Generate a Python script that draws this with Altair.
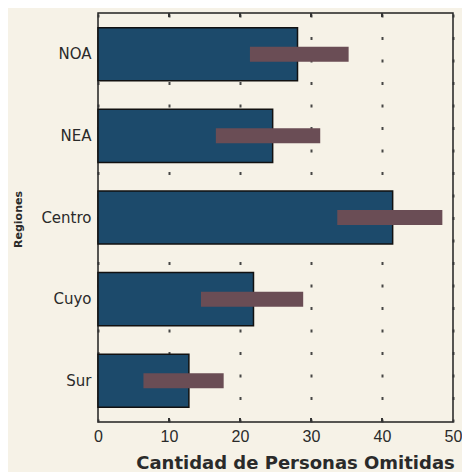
import altair as alt
import pandas as pd

regions = ["NOA", "NEA", "Centro", "Cuyo", "Sur"]
values = [28.1, 24.6, 41.5, 21.9, 12.8]
err_low = [21.4, 16.6, 33.7, 14.5, 6.4]
err_high = [35.3, 31.3, 48.5, 28.9, 17.7]
x_ticks = [0, 10, 20, 30, 40, 50]
inner_ticks = [10, 20, 30, 40]

df = pd.DataFrame({"region": regions, "value": values, "lo": err_low, "hi": err_high})
ticks_df = pd.DataFrame({"t": inner_ticks})

x_scale = alt.Scale(domain=[0, 50], nice=False, zero=True)
y_scale = alt.Scale(domain=regions, paddingInner=0.35, paddingOuter=0.18)

x_axis = alt.Axis(
    values=x_ticks, title="Cantidad de Personas Omitidas", format="d",
    domain=False, ticks=False, labelFlush=False,
    labelFont="Liberation Sans", labelFontSize=16, labelColor="#2a2a2a", labelPadding=6,
    titleFont="DejaVu Sans", titleFontSize=18, titleFontWeight="bold", titleColor="#2a2a2a",
    titleX=197, titleY=46, titleBaseline="alphabetic", titleAlign="center",
    grid=True, gridColor="#333333", gridWidth=2, gridDash=[3, 19.5], gridOpacity=0.9,
)
y_axis = alt.Axis(
    title="Regiones", domain=False, ticks=False, grid=False,
    labelFont="DejaVu Sans", labelFontSize=15, labelColor="#2a2a2a", labelPadding=7,
    titleFont="DejaVu Sans", titleFontSize=11, titleFontWeight="bold", titleColor="#2a2a2a",
    titleX=-80, titleY=206, titleAngle=270, titleAlign="center", titleBaseline="middle",
)

bars = alt.Chart(df).mark_bar(color="#1c4a6b", stroke="#111111", strokeWidth=1.5).encode(
    x=alt.X("value:Q", scale=x_scale, axis=x_axis),
    y=alt.Y("region:N", scale=y_scale, axis=y_axis, sort=regions),
)

errs = alt.Chart(df).mark_bar(color="#6a4d55", size=15).encode(
    x=alt.X("lo:Q", scale=x_scale),
    x2="hi:Q",
    y=alt.Y("region:N", scale=y_scale, sort=regions),
)

top_ticks = alt.Chart(ticks_df).mark_rule(color="#333333", strokeWidth=2).encode(
    x=alt.X("t:Q", scale=x_scale), y=alt.value(0), y2=alt.value(4)
)
bottom_ticks = alt.Chart(ticks_df).mark_rule(color="#333333", strokeWidth=2).encode(
    x=alt.X("t:Q", scale=x_scale), y=alt.value(405), y2=alt.value(409)
)

chart = alt.layer(bars, errs, top_ticks, bottom_ticks).properties(
    width=355, height=409,
    autosize=alt.AutoSizeParams(type="none"),
    padding={"left": 90, "top": 5, "right": 9, "bottom": 50},
    background="#f6f2e7",
).configure_view(stroke="#222222", strokeWidth=1.5)

chart.save("out.html", embed_options={"renderer": "svg", "actions": False})
